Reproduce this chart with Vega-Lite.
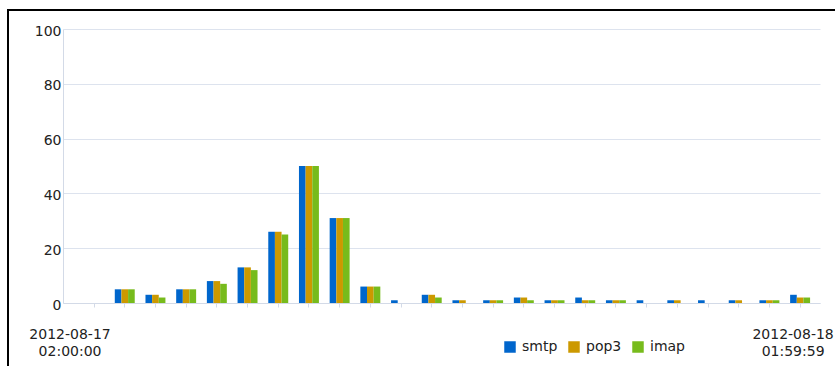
{
  "$schema": "https://vega.github.io/schema/vega-lite/v6.json",
  "autosize": "none",
  "padding": {"left": 8, "top": 10, "right": 0, "bottom": 0},
  "width": 835,
  "height": 366,
  "background": "white",
  "config": {
    "font": "DejaVu Sans",
    "view": {"stroke": "black", "strokeWidth": 2},
    "axis": {"labelFont": "DejaVu Sans", "labelFontSize": 14, "labelColor": "#222222", "domainColor": "#d3dae7", "tickColor": "#d3dae7", "gridColor": "#dde3ee"}
  },
  "data": {
    "values": [
      {"hour": "02", "protocol": "smtp", "count": 0}, {"hour": "02", "protocol": "pop3", "count": 0}, {"hour": "02", "protocol": "imap", "count": 0},
      {"hour": "03", "protocol": "smtp", "count": 5}, {"hour": "03", "protocol": "pop3", "count": 5}, {"hour": "03", "protocol": "imap", "count": 5},
      {"hour": "04", "protocol": "smtp", "count": 3}, {"hour": "04", "protocol": "pop3", "count": 3}, {"hour": "04", "protocol": "imap", "count": 2},
      {"hour": "05", "protocol": "smtp", "count": 5}, {"hour": "05", "protocol": "pop3", "count": 5}, {"hour": "05", "protocol": "imap", "count": 5},
      {"hour": "06", "protocol": "smtp", "count": 8}, {"hour": "06", "protocol": "pop3", "count": 8}, {"hour": "06", "protocol": "imap", "count": 7},
      {"hour": "07", "protocol": "smtp", "count": 13}, {"hour": "07", "protocol": "pop3", "count": 13}, {"hour": "07", "protocol": "imap", "count": 12},
      {"hour": "08", "protocol": "smtp", "count": 26}, {"hour": "08", "protocol": "pop3", "count": 26}, {"hour": "08", "protocol": "imap", "count": 25},
      {"hour": "09", "protocol": "smtp", "count": 50}, {"hour": "09", "protocol": "pop3", "count": 50}, {"hour": "09", "protocol": "imap", "count": 50},
      {"hour": "10", "protocol": "smtp", "count": 31}, {"hour": "10", "protocol": "pop3", "count": 31}, {"hour": "10", "protocol": "imap", "count": 31},
      {"hour": "11", "protocol": "smtp", "count": 6}, {"hour": "11", "protocol": "pop3", "count": 6}, {"hour": "11", "protocol": "imap", "count": 6},
      {"hour": "12", "protocol": "smtp", "count": 1}, {"hour": "12", "protocol": "pop3", "count": 0}, {"hour": "12", "protocol": "imap", "count": 0},
      {"hour": "13", "protocol": "smtp", "count": 3}, {"hour": "13", "protocol": "pop3", "count": 3}, {"hour": "13", "protocol": "imap", "count": 2},
      {"hour": "14", "protocol": "smtp", "count": 1}, {"hour": "14", "protocol": "pop3", "count": 1}, {"hour": "14", "protocol": "imap", "count": 0},
      {"hour": "15", "protocol": "smtp", "count": 1}, {"hour": "15", "protocol": "pop3", "count": 1}, {"hour": "15", "protocol": "imap", "count": 1},
      {"hour": "16", "protocol": "smtp", "count": 2}, {"hour": "16", "protocol": "pop3", "count": 2}, {"hour": "16", "protocol": "imap", "count": 1},
      {"hour": "17", "protocol": "smtp", "count": 1}, {"hour": "17", "protocol": "pop3", "count": 1}, {"hour": "17", "protocol": "imap", "count": 1},
      {"hour": "18", "protocol": "smtp", "count": 2}, {"hour": "18", "protocol": "pop3", "count": 1}, {"hour": "18", "protocol": "imap", "count": 1},
      {"hour": "19", "protocol": "smtp", "count": 1}, {"hour": "19", "protocol": "pop3", "count": 1}, {"hour": "19", "protocol": "imap", "count": 1},
      {"hour": "20", "protocol": "smtp", "count": 1}, {"hour": "20", "protocol": "pop3", "count": 0}, {"hour": "20", "protocol": "imap", "count": 0},
      {"hour": "21", "protocol": "smtp", "count": 1}, {"hour": "21", "protocol": "pop3", "count": 1}, {"hour": "21", "protocol": "imap", "count": 0},
      {"hour": "22", "protocol": "smtp", "count": 1}, {"hour": "22", "protocol": "pop3", "count": 0}, {"hour": "22", "protocol": "imap", "count": 0},
      {"hour": "23", "protocol": "smtp", "count": 1}, {"hour": "23", "protocol": "pop3", "count": 1}, {"hour": "23", "protocol": "imap", "count": 0},
      {"hour": "00", "protocol": "smtp", "count": 1}, {"hour": "00", "protocol": "pop3", "count": 1}, {"hour": "00", "protocol": "imap", "count": 1},
      {"hour": "01", "protocol": "smtp", "count": 3}, {"hour": "01", "protocol": "pop3", "count": 2}, {"hour": "01", "protocol": "imap", "count": 2}
    ]
  },
  "mark": {"type": "bar"},
  "encoding": {
    "x": {
      "field": "hour", "type": "nominal", "sort": null,
      "scale": {"range": [55, 812], "paddingInner": 0.35, "paddingOuter": 0.505, "align": 0.68},
      "axis": {
        "title": null, "offset": -73, "tickSize": 4, "labelPadding": 20, "labelLineHeight": 17, "labelAngle": 0,
        "labelExpr": "datum.value == '02' ? ['2012-08-17', '02:00:00'] : datum.value == '01' ? ['2012-08-18', '01:59:59'] : ''",
        "labelOffset": {"condition": {"test": "datum.value == '02'", "value": -24}, "value": -7}
      }
    },
    "xOffset": {"field": "protocol", "type": "nominal", "sort": ["smtp", "pop3", "imap"], "scale": {"paddingInner": 0, "paddingOuter": 0}},
    "y": {
      "field": "count", "type": "quantitative",
      "scale": {"domain": [0, 100], "range": [293, 19], "nice": false},
      "axis": {"title": null, "offset": -55, "ticks": false, "labelPadding": 2, "labelOffset": 2, "values": [0, 20, 40, 60, 80, 100], "grid": true}
    },
    "color": {
      "field": "protocol", "type": "nominal", "sort": ["smtp", "pop3", "imap"],
      "scale": {"domain": ["smtp", "pop3", "imap"], "range": ["#0066cc", "#cc9900", "#77bb1c"]},
      "legend": {
        "title": null, "orient": "none", "direction": "horizontal", "legendX": 495, "legendY": 330,
        "symbolType": "square", "symbolSize": 132, "symbolStrokeWidth": 0, "symbolOpacity": 1,
        "labelFont": "DejaVu Sans", "labelFontSize": 14, "labelColor": "#222222", "labelOffset": 5, "columnPadding": 9
      }
    }
  }
}
